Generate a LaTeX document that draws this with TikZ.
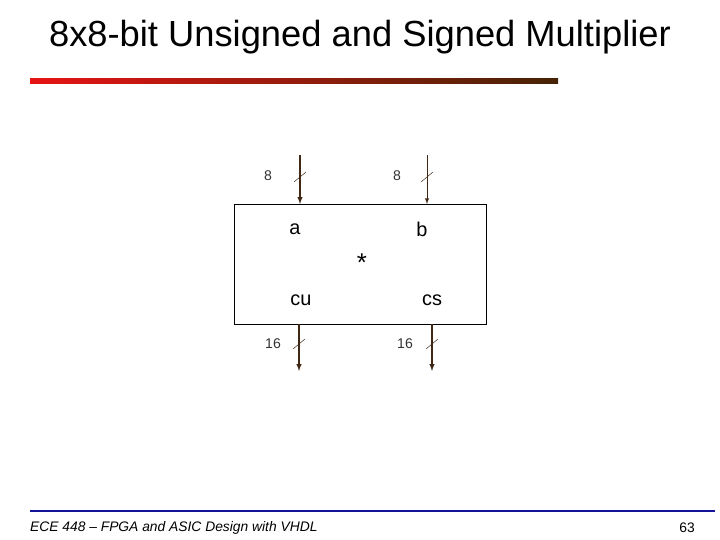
\documentclass[tikz,border=0pt]{standalone}
\usepackage{fontspec}
\setmainfont{Liberation Sans}
\usetikzlibrary{arrows,positioning}
\definecolor{wire}{RGB}{64,40,20}
\definecolor{barred}{RGB}{230,20,20}
\definecolor{barbrown}{RGB}{70,35,5}
\definecolor{footblue}{RGB}{20,20,150}
\tikzset{bus/.style={draw=wire,line width=1pt,-latex},
  slash/.style={draw=wire,thin},
  width/.style={font=\fontsize{12}{14}\selectfont,text=black!80}}
\begin{document}
\begin{tikzpicture}[x=0.03cm,y=-0.03cm]
\useasboundingbox (0,0) rectangle (720,540);
\node (title) at (360,37) {\fontsize{31}{36}\selectfont 8x8-bit Unsigned and Signed Multiplier};
\shade[left color=barred,right color=barbrown] (30,79) rectangle (558,84);
% multiplier block
\draw[thin] (234,204) rectangle (486,324);
\node (a) at (295,229) {\fontsize{17}{20}\selectfont a};
\node (b) at (422,229) {\fontsize{17}{20}\selectfont b};
\node (mul) at (362,263) {\fontsize{22}{26}\selectfont *};
\node (cu) at (301,300) {\fontsize{17}{20}\selectfont cu};
\node (cs) at (432,300) {\fontsize{17}{20}\selectfont cs};
% inputs
\coordinate (ina) at (300,155); \coordinate (ina2) at (300,204);
\coordinate (inb) at (427,155); \coordinate (inb2) at (427,204);
\draw[bus] (ina) -- (ina2);
\draw[bus,line width=0.7pt] (inb) -- (inb2);
\draw[slash] (294,182) -- (306,172);
\draw[slash] (421,182) -- (433,172);
\node[width] (wa) at (268,176) {8};
\node[width] (wb) at (397,176) {8};
% outputs
\coordinate (outa) at (299,324); \coordinate (outa2) at (299,371);
\coordinate (outb) at (432,324); \coordinate (outb2) at (432,371);
\draw[bus] (outa) -- (outa2);
\draw[bus] (outb) -- (outb2);
\draw[slash] (293,349) -- (305,339);
\draw[slash] (426,349) -- (438,339);
\node[width] (wcu) at (273,344) {16};
\node[width] (wcs) at (405,344) {16};
% footer
\draw[footblue,line width=1.5pt] (30,511) -- (715,511);
\node[anchor=west,font=\fontsize{11.8}{14}\selectfont\itshape] (foot) at (26,528) {ECE 448 -- FPGA and ASIC Design with VHDL};
\node[font=\fontsize{11.8}{14}\selectfont] (page) at (687,528) {63};
\end{tikzpicture}
\end{document}
